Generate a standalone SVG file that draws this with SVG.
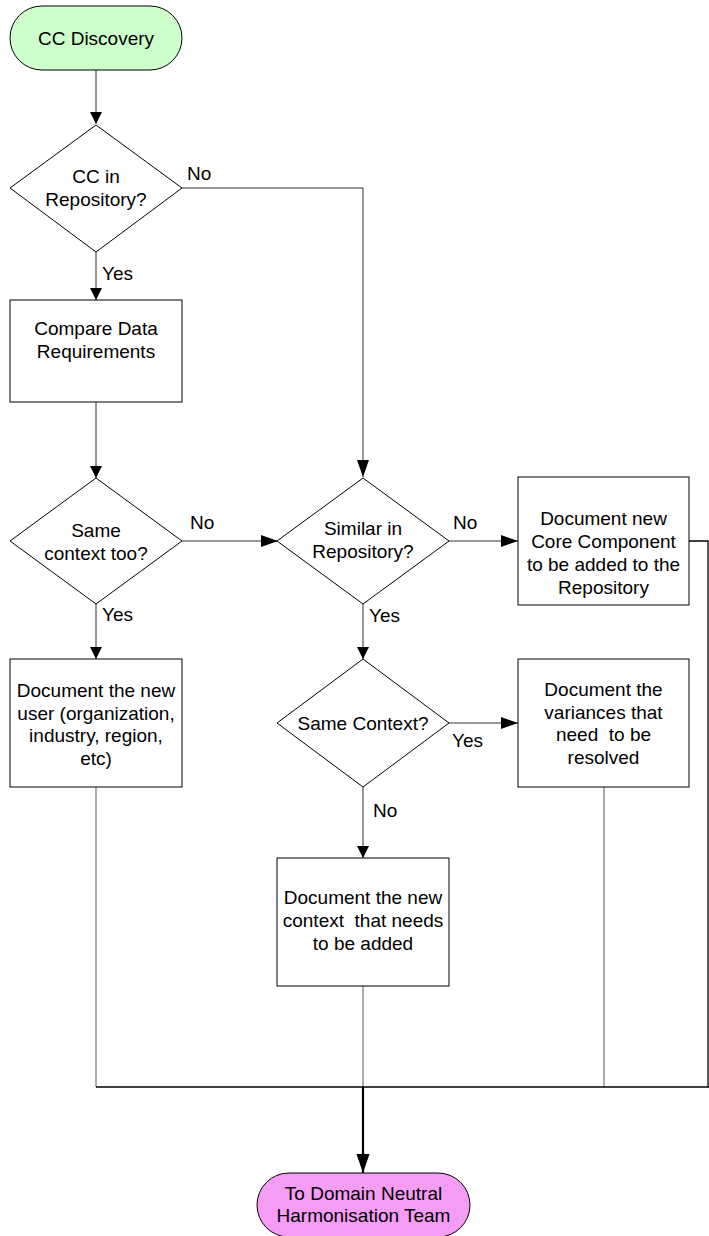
<svg xmlns="http://www.w3.org/2000/svg" width="709" height="1236" viewBox="0 0 709 1236">
<style>
text{font-family:"Liberation Sans",Arial,sans-serif;font-size:19px;fill:#000;white-space:pre}
.c{text-anchor:middle}
.n{stroke:#000;stroke-width:1;fill:#fff}
.e{stroke:#303030;stroke-width:1;fill:none}
.g{stroke:#808080;stroke-width:1.3;fill:none}
.k{stroke:#000;stroke-width:1.3;fill:none}
</style>
<defs>
<marker id="av" markerUnits="userSpaceOnUse" markerWidth="12" markerHeight="14" refX="12" refY="6" orient="auto"><path d="M0,0 L12,6 L0,12 Z" fill="#000"/></marker>
<marker id="ah" markerUnits="userSpaceOnUse" markerWidth="18" markerHeight="14" refX="17" refY="6" orient="auto"><path d="M0,0 L17,6 L0,12 Z" fill="#000"/></marker>
<marker id="ab" markerUnits="userSpaceOnUse" markerWidth="20" markerHeight="14" refX="19" refY="6.5" orient="auto"><path d="M0,0 L19,6.5 L0,13 Z" fill="#000"/></marker>
</defs>
<g id="connectors">
<path class="e" d="M96,70 V124" marker-end="url(#av)"/>
<path class="e" d="M182,188 H363 V477" marker-end="url(#ah)"/>
<path class="e" d="M96,252 V300" marker-end="url(#av)"/>
<path class="e" d="M96,402 V478" marker-end="url(#av)"/>
<path class="e" d="M182,541 H278" marker-end="url(#ah)"/>
<path class="e" d="M449,541 H518" marker-end="url(#ah)"/>
<path class="e" d="M96,604 V659" marker-end="url(#av)"/>
<path class="e" d="M363,604 V659" marker-end="url(#av)"/>
<path class="e" d="M449,723 H518" marker-end="url(#ah)"/>
<path class="e" d="M363,787 V858" marker-end="url(#av)"/>
<path class="k" d="M689,541 H708 V1087"/>
<path class="g" d="M96,787 V1087"/>
<path class="g" d="M363,986 V1087"/>
<path class="g" d="M604,787 V1087"/>
<path class="k" d="M96,1087 H709"/>
<path d="M363,1087 V1173" stroke="#000" stroke-width="2.2" fill="none" marker-end="url(#ab)"/>
<text x="187" y="180">No</text>
<text x="102" y="280">Yes</text>
<text x="190" y="529">No</text>
<text x="102" y="621">Yes</text>
<text x="453" y="529">No</text>
<text x="369" y="622">Yes</text>
<text x="452" y="747">Yes</text>
<text x="373" y="817">No</text>
</g>
<g id="start">
<rect class="n" x="10" y="6" width="172" height="64" rx="32" ry="32" style="fill:#ccffcc"/>
<text class="c" x="96" y="45">CC Discovery</text>
</g>
<g id="dec-cc-in-repo">
<polygon class="n" points="96,125 182,188 96,252 10,188"/>
<text class="c" x="96" y="183">CC in</text>
<text class="c" x="96" y="206">Repository?</text>
</g>
<g id="compare">
<rect class="n" x="10" y="300" width="172" height="102"/>
<text class="c" x="96" y="335">Compare Data</text>
<text class="c" x="96" y="358">Requirements</text>
</g>
<g id="dec-same-context-too">
<polygon class="n" points="96,478 182,541 96,604 10,541"/>
<text class="c" x="96" y="537">Same</text>
<text class="c" x="96" y="560">context too?</text>
</g>
<g id="doc-user">
<rect class="n" x="10" y="659" width="172" height="128"/>
<text class="c" x="96" y="697">Document the new</text>
<text class="c" x="96" y="720">user (organization,</text>
<text class="c" x="96" y="742">industry, region,</text>
<text class="c" x="96" y="765">etc)</text>
</g>
<g id="dec-similar">
<polygon class="n" points="363,478 449,541 363,604 277,541"/>
<text class="c" x="363" y="535">Similar in</text>
<text class="c" x="363" y="558">Repository?</text>
</g>
<g id="doc-new-cc">
<rect class="n" x="518" y="477" width="171" height="128"/>
<text class="c" x="603.5" y="525">Document new</text>
<text class="c" x="603.5" y="548">Core Component</text>
<text class="c" x="603.5" y="571">to be added to the</text>
<text class="c" x="603.5" y="594">Repository</text>
</g>
<g id="dec-same-context">
<polygon class="n" points="363,659 449,723 363,787 277,723"/>
<text class="c" x="363" y="730">Same Context?</text>
</g>
<g id="doc-variances">
<rect class="n" x="518" y="659" width="171" height="128"/>
<text class="c" x="603.5" y="696">Document the</text>
<text class="c" x="603.5" y="719">variances that</text>
<text class="c" x="603.5" y="741">need  to be</text>
<text class="c" x="603.5" y="764">resolved</text>
</g>
<g id="doc-new-context">
<rect class="n" x="277" y="858" width="172" height="128"/>
<text class="c" x="363" y="904">Document the new</text>
<text class="c" x="363" y="927">context  that needs</text>
<text class="c" x="363" y="950">to be added</text>
</g>
<g id="end">
<rect class="n" x="257" y="1173" width="213" height="64" rx="32" ry="32" style="fill:#f59cf5"/>
<text class="c" x="363.5" y="1200">To Domain Neutral</text>
<text class="c" x="363.5" y="1222">Harmonisation Team</text>
</g>
</svg>
